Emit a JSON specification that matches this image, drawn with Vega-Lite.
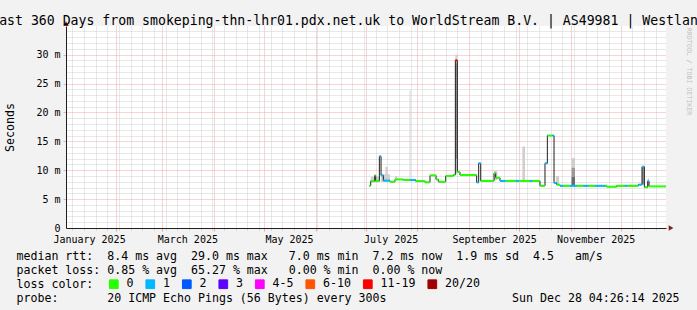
{
  "$schema": "https://vega.github.io/schema/vega-lite/v6.json",
  "width": 600,
  "height": 202,
  "autosize": {"type": "none"},
  "padding": {"left": 66, "top": 26, "right": 31, "bottom": 82},
  "background": "#f2f2f2",
  "config": {
    "view": {"fill": "white", "stroke": null},
    "axis": {
      "labelFont": "DejaVu Sans Mono", "labelFontSize": 10, "labelColor": "black",
      "titleFont": "DejaVu Sans Mono", "titleFontSize": 11.6, "titleFontWeight": "normal", "titleColor": "black",
      "domainColor": "#1f1f1f", "domainWidth": 1, "labelFlush": false, "labelOverlap": false, "gridWidth": 1
    }
  },
  "title": {
    "text": "Last 360 Days from smokeping-thn-lhr01.pdx.net.uk to WorldStream B.V. | AS49981 | Westland",
    "font": "DejaVu Sans Mono", "fontSize": 13.2, "fontWeight": "normal", "color": "black",
    "anchor": "middle", "frame": "group", "baseline": "alphabetic", "offset": 2, "dx": -17.5, "dy": 19
  },
  "datasets": {
    "segments": [
      {"t":"2025-07-03T05:00","t2":"2025-07-04T00:00","ms":7.3,"loss":"0"},
      {"t":"2025-07-04T00:00","t2":"2025-07-06T10:00","ms":8.1,"loss":"0"},
      {"t":"2025-07-06T10:00","t2":"2025-07-07T00:00","ms":9.1,"loss":"0"},
      {"t":"2025-07-07T00:00","t2":"2025-07-09T05:00","ms":8.15,"loss":"0"},
      {"t":"2025-07-09T05:00","t2":"2025-07-10T05:00","ms":12.4,"loss":"1"},
      {"t":"2025-07-10T05:00","t2":"2025-07-11T14:00","ms":9.1,"loss":"1"},
      {"t":"2025-07-11T14:00","t2":"2025-07-15T14:00","ms":8.2,"loss":"1"},
      {"t":"2025-07-15T14:00","t2":"2025-07-18T14:00","ms":8.0,"loss":"0"},
      {"t":"2025-07-18T14:00","t2":"2025-07-23T14:00","ms":8.4,"loss":"0"},
      {"t":"2025-07-23T14:00","t2":"2025-07-27T14:00","ms":8.3,"loss":"0"},
      {"t":"2025-07-27T14:00","t2":"2025-07-31T00:00","ms":8.3,"loss":"1"},
      {"t":"2025-07-31T00:00","t2":"2025-08-05T14:00","ms":8.1,"loss":"0"},
      {"t":"2025-08-05T14:00","t2":"2025-08-08T14:00","ms":7.9,"loss":"0"},
      {"t":"2025-08-08T14:00","t2":"2025-08-12T05:00","ms":9.1,"loss":"0"},
      {"t":"2025-08-12T05:00","t2":"2025-08-13T14:00","ms":8.4,"loss":"0"},
      {"t":"2025-08-13T14:00","t2":"2025-08-18T00:00","ms":8.0,"loss":"0"},
      {"t":"2025-08-18T00:00","t2":"2025-08-22T14:00","ms":9.0,"loss":"0"},
      {"t":"2025-08-22T14:00","t2":"2025-08-23T19:00","ms":9.2,"loss":"0"},
      {"t":"2025-08-23T19:00","t2":"2025-08-25T00:00","ms":29.0,"loss":"11-19"},
      {"t":"2025-08-25T00:00","t2":"2025-08-26T14:00","ms":9.7,"loss":"0"},
      {"t":"2025-08-26T14:00","t2":"2025-09-05T14:00","ms":9.15,"loss":"0"},
      {"t":"2025-09-05T14:00","t2":"2025-09-06T19:00","ms":7.9,"loss":"1"},
      {"t":"2025-09-06T19:00","t2":"2025-09-08T00:00","ms":11.2,"loss":"1"},
      {"t":"2025-09-08T00:00","t2":"2025-09-16T00:00","ms":8.15,"loss":"0"},
      {"t":"2025-09-16T00:00","t2":"2025-09-17T00:00","ms":9.5,"loss":"0"},
      {"t":"2025-09-17T00:00","t2":"2025-09-19T14:00","ms":8.7,"loss":"0"},
      {"t":"2025-09-19T14:00","t2":"2025-09-23T00:00","ms":8.15,"loss":"1"},
      {"t":"2025-09-23T00:00","t2":"2025-09-29T00:00","ms":8.15,"loss":"0"},
      {"t":"2025-09-29T00:00","t2":"2025-10-01T00:00","ms":8.15,"loss":"1"},
      {"t":"2025-10-01T00:00","t2":"2025-10-07T14:00","ms":8.15,"loss":"0"},
      {"t":"2025-10-07T14:00","t2":"2025-10-09T00:00","ms":8.15,"loss":"1"},
      {"t":"2025-10-09T00:00","t2":"2025-10-13T14:00","ms":8.15,"loss":"0"},
      {"t":"2025-10-13T14:00","t2":"2025-10-16T14:00","ms":7.3,"loss":"0"},
      {"t":"2025-10-16T14:00","t2":"2025-10-18T00:00","ms":11.2,"loss":"1"},
      {"t":"2025-10-18T00:00","t2":"2025-10-21T00:00","ms":16.0,"loss":"0"},
      {"t":"2025-10-21T00:00","t2":"2025-10-22T00:00","ms":16.0,"loss":"1"},
      {"t":"2025-10-22T00:00","t2":"2025-10-23T14:00","ms":7.8,"loss":"1"},
      {"t":"2025-10-23T14:00","t2":"2025-10-25T14:00","ms":7.5,"loss":"0"},
      {"t":"2025-10-25T14:00","t2":"2025-10-27T14:00","ms":7.3,"loss":"1"},
      {"t":"2025-10-27T14:00","t2":"2025-10-31T14:00","ms":7.3,"loss":"0"},
      {"t":"2025-10-31T14:00","t2":"2025-11-04T14:00","ms":7.3,"loss":"1"},
      {"t":"2025-11-04T14:00","t2":"2025-11-08T14:00","ms":7.3,"loss":"0"},
      {"t":"2025-11-08T14:00","t2":"2025-11-11T14:00","ms":7.3,"loss":"1"},
      {"t":"2025-11-11T14:00","t2":"2025-11-15T14:00","ms":7.3,"loss":"0"},
      {"t":"2025-11-15T14:00","t2":"2025-11-21T14:00","ms":7.3,"loss":"1"},
      {"t":"2025-11-21T14:00","t2":"2025-11-22T14:00","ms":7.3,"loss":"0"},
      {"t":"2025-11-22T14:00","t2":"2025-11-28T14:00","ms":7.15,"loss":"0"},
      {"t":"2025-11-28T14:00","t2":"2025-12-03T14:00","ms":7.3,"loss":"0"},
      {"t":"2025-12-03T14:00","t2":"2025-12-05T00:00","ms":7.3,"loss":"1"},
      {"t":"2025-12-05T00:00","t2":"2025-12-11T14:00","ms":7.3,"loss":"0"},
      {"t":"2025-12-11T14:00","t2":"2025-12-13T19:00","ms":7.5,"loss":"1"},
      {"t":"2025-12-13T19:00","t2":"2025-12-15T05:00","ms":10.6,"loss":"1"},
      {"t":"2025-12-15T05:00","t2":"2025-12-17T05:00","ms":7.05,"loss":"0"},
      {"t":"2025-12-17T05:00","t2":"2025-12-18T00:00","ms":8.1,"loss":"1"},
      {"t":"2025-12-18T00:00","t2":"2025-12-28T04:26","ms":7.2,"loss":"0"}
    ],
    "smoke": [
      {"t":"2025-07-04T00:00","t2":"2025-07-09T05:00","lo":7.9,"hi":8.9,"band":"outer"},
      {"t":"2025-07-10T05:00","t2":"2025-07-15T14:00","lo":8.0,"hi":9.3,"band":"outer"},
      {"t":"2025-07-12T20:00","t2":"2025-07-14T05:00","lo":8.3,"hi":10.6,"band":"outer"},
      {"t":"2025-07-18T14:00","t2":"2025-07-20T00:00","lo":8.3,"hi":9.0,"band":"outer"},
      {"t":"2025-07-27T08:00","t2":"2025-07-27T22:00","lo":8.3,"hi":23.8,"band":"outer"},
      {"t":"2025-08-23T19:00","t2":"2025-08-25T00:00","lo":9.3,"hi":30.0,"band":"outer"},
      {"t":"2025-08-23T19:00","t2":"2025-08-25T00:00","lo":12.0,"hi":28.5,"band":"mid"},
      {"t":"2025-09-16T00:00","t2":"2025-09-18T00:00","lo":8.3,"hi":9.9,"band":"outer"},
      {"t":"2025-10-03T00:00","t2":"2025-10-04T14:00","lo":8.15,"hi":14.1,"band":"outer"},
      {"t":"2025-10-23T05:00","t2":"2025-10-25T00:00","lo":7.6,"hi":9.0,"band":"outer"},
      {"t":"2025-11-01T14:00","t2":"2025-11-03T14:00","lo":7.3,"hi":12.1,"band":"outer"},
      {"t":"2025-11-01T14:00","t2":"2025-11-03T14:00","lo":7.3,"hi":10.4,"band":"mid"},
      {"t":"2025-11-01T14:00","t2":"2025-11-03T14:00","lo":7.3,"hi":8.8,"band":"inner"},
      {"t":"2025-12-13T19:00","t2":"2025-12-15T05:00","lo":7.5,"hi":10.6,"band":"mid"},
      {"t":"2025-12-17T05:00","t2":"2025-12-18T00:00","lo":7.3,"hi":8.6,"band":"outer"}
    ]
  },
  "layer": [
    {
      "data": {"name": "smoke"},
      "mark": {"type": "rect"},
      "encoding": {
        "x": {"field": "t", "type": "temporal",
          "scale": {"domain": [{"year":2025,"month":1,"date":2,"hours":4,"minutes":26,"seconds":14},{"year":2025,"month":12,"date":28,"hours":4,"minutes":26,"seconds":14}], "nice": false},
          "axis": {"orient": "bottom", "title": null, "labels": false, "domain": false, "ticks": true, "tickSize": 2, "tickColor": "#d0d0d0",
            "grid": true, "gridColor": "#d0d0d0", "gridDash": [1, 1], "zindex": 0,
            "values": [
              {"year":2025,"month":1,"date":6},{"year":2025,"month":1,"date":13},{"year":2025,"month":1,"date":20},{"year":2025,"month":1,"date":27},
              {"year":2025,"month":2,"date":3},{"year":2025,"month":2,"date":10},{"year":2025,"month":2,"date":17},{"year":2025,"month":2,"date":24},
              {"year":2025,"month":3,"date":3},{"year":2025,"month":3,"date":10},{"year":2025,"month":3,"date":17},{"year":2025,"month":3,"date":24},{"year":2025,"month":3,"date":31},
              {"year":2025,"month":4,"date":7},{"year":2025,"month":4,"date":14},{"year":2025,"month":4,"date":21},{"year":2025,"month":4,"date":28},
              {"year":2025,"month":5,"date":5},{"year":2025,"month":5,"date":12},{"year":2025,"month":5,"date":19},{"year":2025,"month":5,"date":26},
              {"year":2025,"month":6,"date":2},{"year":2025,"month":6,"date":9},{"year":2025,"month":6,"date":16},{"year":2025,"month":6,"date":23},{"year":2025,"month":6,"date":30},
              {"year":2025,"month":7,"date":7},{"year":2025,"month":7,"date":14},{"year":2025,"month":7,"date":21},{"year":2025,"month":7,"date":28},
              {"year":2025,"month":8,"date":4},{"year":2025,"month":8,"date":11},{"year":2025,"month":8,"date":18},{"year":2025,"month":8,"date":25},
              {"year":2025,"month":9,"date":8},{"year":2025,"month":9,"date":15},{"year":2025,"month":9,"date":22},{"year":2025,"month":9,"date":29},
              {"year":2025,"month":10,"date":6},{"year":2025,"month":10,"date":13},{"year":2025,"month":10,"date":20},{"year":2025,"month":10,"date":27},
              {"year":2025,"month":11,"date":3},{"year":2025,"month":11,"date":10},{"year":2025,"month":11,"date":17},{"year":2025,"month":11,"date":24},
              {"year":2025,"month":12,"date":8},{"year":2025,"month":12,"date":15},{"year":2025,"month":12,"date":22}
            ]}},
        "x2": {"field": "t2"},
        "y": {"field": "lo", "type": "quantitative",
          "scale": {"domain": [0, 34.95], "nice": false, "zero": true},
          "axis": {"orient": "left", "title": null, "labels": false, "domain": false, "ticks": false,
            "grid": true, "gridColor": "#d0d0d0", "gridDash": [1, 1], "zindex": 0,
            "values": [1,2,3,4,6,7,8,9,11,12,13,14,16,17,18,19,21,22,23,24,26,27,28,29,31,32,33,34]}},
        "y2": {"field": "hi"},
        "fill": {"field": "band", "type": "nominal",
          "scale": {"domain": ["outer", "mid", "inner"], "range": ["#cfcfcf", "#9a9a9a", "#6a6a6a"]},
          "legend": null}
      }
    },
    {
      "data": {"name": "segments"},
      "mark": {"type": "line", "interpolate": "step-after", "color": "#202020", "strokeWidth": 1},
      "encoding": {
        "x": {"field": "t", "type": "temporal",
          "scale": {"domain": [{"year":2025,"month":1,"date":2,"hours":4,"minutes":26,"seconds":14},{"year":2025,"month":12,"date":28,"hours":4,"minutes":26,"seconds":14}], "nice": false},
          "axis": {"orient": "bottom", "title": null, "labels": false, "domain": false, "ticks": true, "tickSize": 3, "tickColor": "#f2a8a8",
            "grid": true, "gridColor": "#f2a8a8", "gridDash": [1, 1], "zindex": 0,
            "values": [
              {"year":2025,"month":2,"date":1},{"year":2025,"month":3,"date":1},{"year":2025,"month":4,"date":1},{"year":2025,"month":5,"date":1},
              {"year":2025,"month":6,"date":1},{"year":2025,"month":7,"date":1},{"year":2025,"month":8,"date":1},{"year":2025,"month":9,"date":1},
              {"year":2025,"month":10,"date":1},{"year":2025,"month":11,"date":1},{"year":2025,"month":12,"date":1}
            ]}},
        "y": {"field": "ms", "type": "quantitative",
          "scale": {"domain": [0, 34.95], "nice": false, "zero": true},
          "axis": {"orient": "left", "title": null, "labels": false, "domain": false, "ticks": true, "tickSize": 3, "tickColor": "#f2a8a8",
            "grid": true, "gridColor": "#f2a8a8", "gridDash": [1, 1], "zindex": 0,
            "values": [5, 10, 15, 20, 25, 30]}}
      }
    },
    {
      "data": {"name": "segments"},
      "mark": {"type": "rule", "strokeWidth": 2, "strokeCap": "butt"},
      "encoding": {
        "x": {"field": "t", "type": "temporal",
          "scale": {"domain": [{"year":2025,"month":1,"date":2,"hours":4,"minutes":26,"seconds":14},{"year":2025,"month":12,"date":28,"hours":4,"minutes":26,"seconds":14}], "nice": false},
          "axis": {"orient": "bottom", "grid": false, "ticks": false, "domain": true, "labelPadding": 6, "format": "%B %Y", "zindex": 1,
            "values": [
              {"year":2025,"month":1,"date":16},{"year":2025,"month":3,"date":16},{"year":2025,"month":5,"date":16},
              {"year":2025,"month":7,"date":16},{"year":2025,"month":9,"date":16},{"year":2025,"month":11,"date":16}
            ],
            "title": [
              "median rtt:\u00a0\u00a08.4 ms avg\u00a0\u00a029.0 ms max\u00a0\u00a0\u00a07.0 ms min\u00a0\u00a07.2 ms now\u00a0\u00a01.9 ms sd\u00a0\u00a04.5\u00a0\u00a0\u00a0am/s",
              "packet loss:\u00a00.85 % avg\u00a0\u00a065.27 % max\u00a0\u00a0\u00a00.00 % min\u00a0\u00a00.00 % now",
              "loss color:",
              "probe:\u00a0\u00a0\u00a0\u00a0\u00a0\u00a0\u00a020 ICMP Echo Pings (56 Bytes) every 300s\u00a0\u00a0\u00a0\u00a0\u00a0\u00a0\u00a0\u00a0\u00a0\u00a0\u00a0\u00a0\u00a0\u00a0\u00a0\u00a0\u00a0\u00a0Sun Dec 28 04:26:14 2025"
            ],
            "titleX": -50, "titleY": 31, "titleAlign": "left", "titleAnchor": "start", "titleBaseline": "alphabetic",
            "titleLineHeight": 14.3, "titleLimit": 3000, "titleFontSize": 11.6}},
        "x2": {"field": "t2"},
        "y": {"field": "ms", "type": "quantitative",
          "scale": {"domain": [0, 34.95], "nice": false, "zero": true},
          "axis": {"orient": "left", "grid": false, "ticks": false, "domain": true, "labelPadding": 6, "zindex": 1,
            "values": [0, 5, 10, 15, 20, 25, 30],
            "labelExpr": "datum.value == 0 ? '0\u00a0\u00a0' : datum.value + ' m'",
            "title": "Seconds", "titleX": -53, "titleY": 101, "titleAngle": -90, "titleAlign": "center", "titleBaseline": "alphabetic"}},
        "stroke": {"field": "loss", "type": "nominal",
          "scale": {"domain": ["0", "1", "2", "3", "4-5", "6-10", "11-19", "20/20"],
                    "range": ["#26ff00", "#00b8ff", "#0059ff", "#5e00ff", "#ff00ff", "#ff5500", "#ff0000", "#a10000"]},
          "legend": {
            "orient": "none", "legendX": 42, "legendY": 252, "direction": "horizontal", "columns": 8,
            "title": null,
            "symbolType": "square", "symbolSize": 76, "symbolStrokeWidth": 1,
            "labelFont": "DejaVu Sans Mono", "labelFontSize": 11.6, "labelColor": "black", "labelOffset": 7,
            "columnPadding": 9.5, "padding": 0,
            "encode": {"symbols": {"update": {
              "fill": {"scale": "stroke", "field": "value"},
              "stroke": {"value": "black"},
              "fillOpacity": {"value": 1}, "opacity": {"value": 1}}}}
          }}
      }
    },
    {
      "data": {"values": [{}]},
      "mark": {"type": "point", "shape": "triangle-right", "filled": true, "color": "#7f1f1f", "size": 30, "opacity": 1},
      "encoding": {
        "x": {"datum": {"year":2025,"month":12,"date":31,"hours":5}, "type": "temporal", "axis": null,
          "scale": {"domain": [{"year":2025,"month":1,"date":2,"hours":4,"minutes":26,"seconds":14},{"year":2025,"month":12,"date":28,"hours":4,"minutes":26,"seconds":14}], "nice": false}},
        "y": {"datum": 0, "type": "quantitative",
          "scale": {"domain": [0, 34.95], "nice": false, "zero": true},
          "axis": {"orient": "right", "grid": false, "ticks": false, "labels": false, "domain": false,
            "title": "RRDTOOL / TOBI OETIKER", "titleAngle": 90, "titleX": 22, "titleY": 45,
            "titleAlign": "center", "titleBaseline": "middle", "titleFont": "DejaVu Sans Mono",
            "titleFontSize": 6.6, "titleColor": "#c0c0c0", "titleFontWeight": "normal"}}
      }
    },
    {
      "data": {"values": [{}]},
      "mark": {"type": "point", "shape": "triangle-up", "filled": true, "color": "#7f1f1f", "size": 30, "opacity": 1},
      "encoding": {
        "x": {"datum": {"year":2025,"month":1,"date":2,"hours":4,"minutes":26,"seconds":14}, "type": "temporal", "axis": null,
          "scale": {"domain": [{"year":2025,"month":1,"date":2,"hours":4,"minutes":26,"seconds":14},{"year":2025,"month":12,"date":28,"hours":4,"minutes":26,"seconds":14}], "nice": false}},
        "y": {"datum": 35.38, "type": "quantitative", "axis": null,
          "scale": {"domain": [0, 34.95], "nice": false, "zero": true}}
      }
    }
  ],
  "resolve": {"axis": {"x": "independent", "y": "independent"}}
}
